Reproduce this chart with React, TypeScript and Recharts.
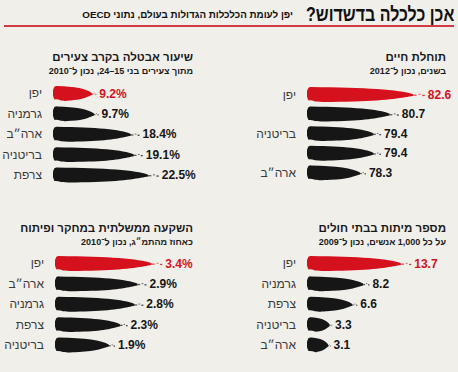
import { Bar, BarChart, LabelList, XAxis, YAxis } from "recharts";

const lifeCountries = ["יפן", "צרפת", "בריטניה", "גרמניה", "ארה״ב"];
const lifeValues = [82.6, 80.7, 79.4, 79.4, 78.3];

const youthCountries = ["יפן", "גרמניה", "ארה״ב", "בריטניה", "צרפת"];
const youthValues = [9.2, 9.7, 18.4, 19.1, 22.5];

const deathCountries = ["יפן", "גרמניה", "צרפת", "בריטניה", "ארה״ב"];
const deathValues = [13.7, 8.2, 6.6, 3.3, 3.1];

const rndCountries = ["יפן", "ארה״ב", "גרמניה", "צרפת", "בריטניה"];
const rndValues = [3.4, 2.9, 2.8, 2.3, 1.9];

const RED = "#d5111e";
const INK = "#161616";
const FONT = '"Liberation Sans", "DejaVu Sans", Arial, sans-serif';

// brush-stroke bar: fat blob on the left, body stays thick, then a thin tail
function Brush(props: any) {
  const { x, y, width: w, height: h, index } = props;
  if (!w || w <= 0) return null;
  const fill = index === 0 ? RED : INK;
  const tail = x + w * 0.9;
  const d = [
    `M ${x + 4} ${y}`,
    `C ${x + w * 0.5} ${y + h * 0.04}, ${x + w * 0.78} ${y + h * 0.16}, ${tail} ${y + h * 0.48}`,
    `L ${tail} ${y + h * 0.6}`,
    `C ${x + w * 0.82} ${y + h * 0.68}, ${x + w * 0.7} ${y + h * 0.92}, ${x + w * 0.4} ${y + h * 0.96}`,
    `C ${x + w * 0.25} ${y + h * 0.98}, ${x + 14} ${y + h * 1.02}, ${x + 8} ${y + h * 0.96}`,
    `Q ${x + 4} ${y + h * 0.86}, ${x + 1.5} ${y + h * 0.9}`,
    `Q ${x - 1.5} ${y + h * 0.5}, ${x + 0.5} ${y + h * 0.18}`,
    `Q ${x + 1} ${y - 0.5}, ${x + 4} ${y} Z`,
  ].join(" ");
  const gap = x + w - tail;
  return (
    <g fill={fill}>
      <path d={d} />
      <rect x={tail} y={y + h * 0.5} width={gap * 0.3} height={1.3} opacity={0.7} />
      <rect x={tail + gap * 0.45} y={y + h * 0.45} width={gap * 0.2} height={1} opacity={0.6} />
      <rect x={tail + gap * 0.78} y={y + h * 0.52} width={gap * 0.22} height={1.3} opacity={0.8} />
    </g>
  );
}

function ValueLabel(props: any) {
  const { x, y, width, height, value, index, suffix } = props;
  return (
    <text
      x={x + width + 3}
      y={y + height / 2 + 1}
      dominantBaseline="middle"
      fontFamily={FONT}
      fontWeight="bold"
      fontSize={12}
      fill={index === 0 ? RED : INK}
    >
      {value}
      {suffix}
    </text>
  );
}

function Panel({
  countries,
  values,
  domain,
  suffix,
  left,
  top,
  plotLeft,
  plotWidth,
  height,
}: {
  countries: string[];
  values: number[];
  domain: [number, number];
  suffix: string;
  left: number;
  top: number;
  plotLeft: number;
  plotWidth: number;
  height: number;
}) {
  const data = countries.map((c, i) => ({ country: c, value: values[i] }));
  return (
    <div style={{ position: "absolute", left, top }}>
      <BarChart
        width={plotLeft + plotWidth + 45}
        height={height}
        data={data}
        layout="vertical"
        margin={{ top: 0, right: 45, bottom: 0, left: 0 }}
        barCategoryGap={0}
      >
        <XAxis type="number" domain={domain} hide allowDataOverflow />
        <YAxis
          type="category"
          dataKey="country"
          width={plotLeft}
          axisLine={false}
          tickLine={false}
          tickSize={0}
          tickMargin={11}
          tick={{ fontSize: 12, fill: "#3a3a3a", fontFamily: FONT }}
        />
        <Bar dataKey="value" barSize={15} shape={<Brush />} isAnimationActive={false}>
          <LabelList dataKey="value" content={<ValueLabel suffix={suffix} />} />
        </Bar>
      </BarChart>
    </div>
  );
}

function Heading({ title, sub, right, top }: { title: string; sub: string; right: number; top: number }) {
  return (
    <div
      dir="rtl"
      style={{
        position: "absolute",
        right,
        top,
        textAlign: "right",
        fontFamily: FONT,
        color: "#1a1a1a",
        whiteSpace: "nowrap",
      }}
    >
      <div style={{ fontSize: 11.5, fontWeight: "bold", lineHeight: "15px" }}>{title}</div>
      <div style={{ fontSize: 9, fontWeight: "bold", lineHeight: "13px" }}>{sub}</div>
    </div>
  );
}

export default function App() {
  return (
    <div
      style={{
        position: "relative",
        width: 458,
        height: 372,
        background: "#f1efea",
        overflow: "hidden",
        fontFamily: FONT,
      }}
    >
      <style>{`body{margin:0}`}</style>
      <div
        dir="rtl"
        style={{
          position: "absolute",
          right: 4,
          top: 2,
          whiteSpace: "nowrap",
          color: "#111",
          fontSize: 20,
          fontWeight: "bold",
          lineHeight: "24px",
          transform: "scaleX(0.8)",
          transformOrigin: "right center",
        }}
      >
        אכן כלכלה בדשדוש?
      </div>
      <div
        dir="rtl"
        style={{
          position: "absolute",
          right: 165,
          top: 8,
          whiteSpace: "nowrap",
          color: "#111",
          fontSize: 9.8,
          fontWeight: "bold",
          lineHeight: "14px",
        }}
      >
        יפן לעומת הכלכלות הגדולות בעולם, נתוני OECD
      </div>
      <div style={{ position: "absolute", left: 4, top: 25, width: 450, height: 2, background: "#d23a44" }} />

      <Heading title="תוחלת חיים" sub="בשנים, נכון ל־2012" right={12} top={50} />
      <Heading title="שיעור אבטלה בקרב צעירים" sub="מתוך צעירים בני 15–24, נכון ל־2010" right={265} top={50} />
      <Heading title="מספר מיתות בבתי חולים" sub="על כל 1,000 אנשים, נכון ל־2009" right={12} top={221} />
      <Heading title="השקעה ממשלתית במחקר ופיתוח" sub="כאחוז מהתמ״ג, נכון ל־2010" right={265} top={221} />

      <Panel
        countries={lifeCountries}
        values={lifeValues}
        domain={[74, 84]}
        suffix=""
        left={229}
        top={85}
        plotLeft={78}
        plotWidth={137}
        height={98}
      />
      <Panel
        countries={youthCountries}
        values={youthValues}
        domain={[0, 30]}
        suffix="%"
        left={0}
        top={83}
        plotLeft={53}
        plotWidth={141}
        height={102}
      />
      <Panel
        countries={deathCountries}
        values={deathValues}
        domain={[0, 18]}
        suffix=""
        left={229}
        top={253}
        plotLeft={78}
        plotWidth={137}
        height={102}
      />
      <Panel
        countries={rndCountries}
        values={rndValues}
        domain={[0, 4.5]}
        suffix="%"
        left={0}
        top={253}
        plotLeft={55}
        plotWidth={142}
        height={102}
      />
    </div>
  );
}
